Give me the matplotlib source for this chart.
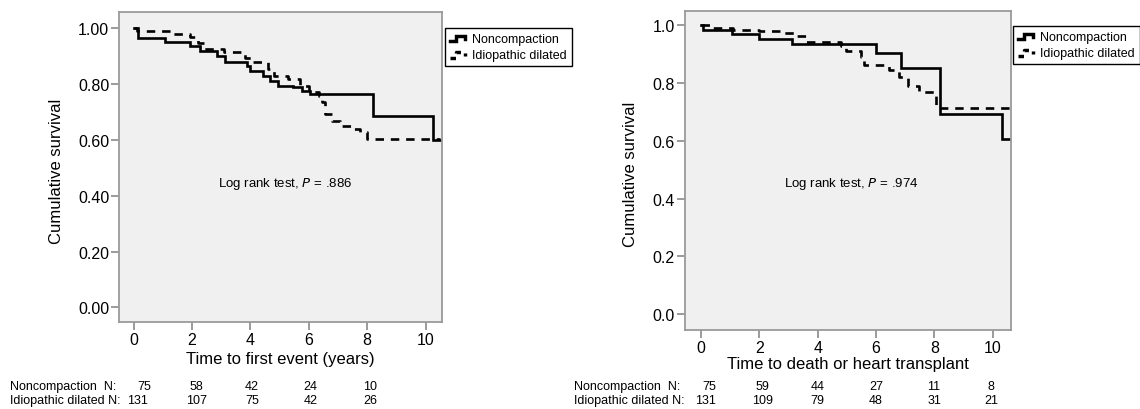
import matplotlib
matplotlib.use("Agg")
import matplotlib.pyplot as plt
from matplotlib.lines import Line2D
from matplotlib.legend_handler import HandlerBase
import matplotlib.transforms as mtransforms

plt.rcParams['font.family'] = ['Liberation Sans', 'DejaVu Sans']

# ---------------- data ----------------
# Panel A: time to first event
a_nc_t = [0, 0.16, 1.07, 1.93, 2.27, 2.84, 3.13, 3.87, 3.98, 4.44, 4.67, 4.95, 5.47, 5.75, 6.04, 8.2, 10.25, 10.5]
a_nc_s = [1.0, 0.965, 0.951, 0.937, 0.919, 0.901, 0.879, 0.865, 0.847, 0.829, 0.811, 0.794, 0.788, 0.776, 0.764, 0.684, 0.60, 0.60]
a_id_t = [0, 0.1, 1.3, 1.93, 2.2, 2.4, 3.1, 3.8, 4.1, 4.6, 4.8, 5.3, 5.7, 6.0, 6.35, 6.45, 6.55, 6.78, 7.07, 7.47, 7.75, 7.98, 10.5]
a_id_s = [1.0, 0.99, 0.979, 0.967, 0.945, 0.925, 0.913, 0.892, 0.877, 0.853, 0.829, 0.818, 0.794, 0.77, 0.758, 0.734, 0.692, 0.668, 0.65, 0.639, 0.627, 0.603, 0.603]

# Panel B: time to death or heart transplant
b_nc_t = [0, 0.06, 1.06, 1.99, 3.11, 6.0, 6.87, 8.18, 10.32, 10.6]
b_nc_s = [1.0, 0.984, 0.969, 0.953, 0.936, 0.903, 0.851, 0.694, 0.605, 0.605]
b_id_t = [0, 0.3, 1.1, 2.0, 2.7, 3.2, 3.6, 4.8, 4.98, 5.47, 5.6, 6.45, 6.8, 7.1, 7.47, 8.05, 10.6]
b_id_s = [1.0, 0.993, 0.986, 0.98, 0.975, 0.962, 0.944, 0.928, 0.91, 0.892, 0.862, 0.845, 0.823, 0.79, 0.77, 0.714, 0.714]

series_names = ["Noncompaction", "Idiopathic dilated"]
a_xticks = [0, 2, 4, 6, 8, 10]
a_yticks = [0.0, 0.2, 0.4, 0.6, 0.8, 1.0]
a_yticklabels = ["0.00", "0.20", "0.40", "0.60", "0.80", "1.00"]
b_yticklabels = ["0.0", "0.2", "0.4", "0.6", "0.8", "1.0"]

a_xlabel = "Time to first event (years)"
b_xlabel = "Time to death or heart transplant"
ylabel = "Cumulative survival"
a_p = ".886"
b_p = ".974"

risk_labels = ["Noncompaction  N:", "Idiopathic dilated N:"]
a_risk_nc = ["75", "58", "42", "24", "10"]
a_risk_id = ["131", "107", "75", "42", "26"]
a_risk_nc_x = [0.35, 2.15, 4.05, 6.05, 8.1]
a_risk_id_x = [0.15, 2.15, 4.05, 6.05, 8.1]
b_risk_nc = ["75", "59", "44", "27", "11", "8"]
b_risk_id = ["131", "109", "79", "48", "31", "21"]
b_risk_nc_x = [0.3, 2.1, 4.0, 6.0, 7.97, 9.94]
b_risk_id_x = [0.15, 2.1, 4.0, 6.0, 8.0, 9.94]

# ---------------- figure ----------------
W, H = 1140, 410
fig = plt.figure(figsize=(W / 100, H / 100), dpi=100)


def px_axes(l, t, r, b):
    return [l / W, 1 - b / H, (r - l) / W, (b - t) / H]


class StepHandler(HandlerBase):
    def create_artists(self, legend, orig_handle, xdescent, ydescent,
                       width, height, fontsize, trans):
        x0 = -xdescent
        y0 = -ydescent
        xs = [x0, x0 + 0.4 * width, x0 + 0.4 * width, x0 + width, x0 + width]
        ys = [y0 + 0.1 * height, y0 + 0.1 * height, y0 + 0.7 * height,
              y0 + 0.7 * height, y0 + 0.3 * height]
        ln = Line2D(xs, ys, color=orig_handle.get_color(),
                    linewidth=orig_handle.get_linewidth() * 1.3,
                    linestyle=orig_handle.get_linestyle(),
                    solid_joinstyle="miter")
        if orig_handle.get_linestyle() != "-":
            ln.set_dashes((1.6, 1.6))
        ln.set_transform(trans)
        return [ln]


def panel(rect, nc_t, nc_s, id_t, id_s, xlim, ylim, yticklabels, xlabel,
          pval, ptext_xy, ylab_x, xlab_y, legend_anchor, risk_label_x,
          risk_nc, risk_nc_x, risk_id, risk_id_x):
    ax = fig.add_axes(rect)
    ax.set_facecolor("#f0f0f0")
    l1, = ax.plot(nc_t, nc_s, drawstyle="steps-post", color="black", lw=1.9,
                  solid_joinstyle="miter")
    l2, = ax.plot(id_t, id_s, drawstyle="steps-post", color="black", lw=1.9,
                  linestyle=(0, (3.2, 2.6)))
    ax.set_xlim(*xlim)
    ax.set_ylim(*ylim)
    ax.set_xticks(a_xticks)
    ax.set_yticks(a_yticks)
    ax.set_yticklabels(yticklabels)
    for sp in ["top", "right", "bottom", "left"]:
        ax.spines[sp].set_color("#9a9a9a")
        ax.spines[sp].set_linewidth(1.3)
    ax.tick_params(axis="both", direction="out", length=5.5, width=1.2,
                   color="#8a8a8a", labelsize=11.5, pad=1.5, labelcolor="black")
    ax.set_ylabel(ylabel, fontsize=12)
    ax.yaxis.set_label_coords(ylab_x, 0.49)
    ax.set_xlabel(xlabel, fontsize=12)
    ax.xaxis.set_label_coords(0.5, xlab_y)
    ax.text(ptext_xy[0], ptext_xy[1], "Log rank test, $\\it{P}$ = " + pval,
            fontsize=9.5, ha="center", va="center")
    leg = fig.legend([l1, l2], series_names, loc="upper left",
                     bbox_to_anchor=legend_anchor, borderaxespad=0,
                     fontsize=9, frameon=True, fancybox=False,
                     edgecolor="black", framealpha=1, facecolor="white",
                     handlelength=1.2, handletextpad=0.55, borderpad=0.4,
                     labelspacing=0.35,
                     handler_map={l1: StepHandler(), l2: StepHandler()})
    leg.get_frame().set_linewidth(1.0)
    tr = mtransforms.blended_transform_factory(ax.transData, fig.transFigure)
    y1 = 1 - 387 / H
    y2 = 1 - 401.5 / H
    fig.text(risk_label_x / W, y1, risk_labels[0], fontsize=9, ha="left", va="center")
    fig.text(risk_label_x / W, y2, risk_labels[1], fontsize=9, ha="left", va="center")
    for v, x in zip(risk_nc, risk_nc_x):
        ax.text(x, y1, v, transform=tr, fontsize=9, ha="center", va="center",
                clip_on=False)
    for v, x in zip(risk_id, risk_id_x):
        ax.text(x, y2, v, transform=tr, fontsize=9, ha="center", va="center",
                clip_on=False)
    return ax


panel(px_axes(119, 13, 442, 323), a_nc_t, a_nc_s, a_id_t, a_id_s,
      (-0.5, 10.56), (-0.052, 1.057), a_yticklabels, a_xlabel, a_p,
      (5.2, 0.445), -0.17, -0.092, (445 / W, 1 - 29 / H), 10,
      a_risk_nc, a_risk_nc_x, a_risk_id, a_risk_id_x)

panel(px_axes(684.5, 11.5, 1010.7, 331), b_nc_t, b_nc_s, b_id_t, b_id_s,
      (-0.56, 10.61), (-0.056, 1.052), b_yticklabels, b_xlabel, b_p,
      (5.14, 0.454), -0.143, -0.08, (1013 / W, 1 - 27 / H), 574,
      b_risk_nc, b_risk_nc_x, b_risk_id, b_risk_id_x)

fig.savefig("out.png", dpi=100, facecolor="white")
